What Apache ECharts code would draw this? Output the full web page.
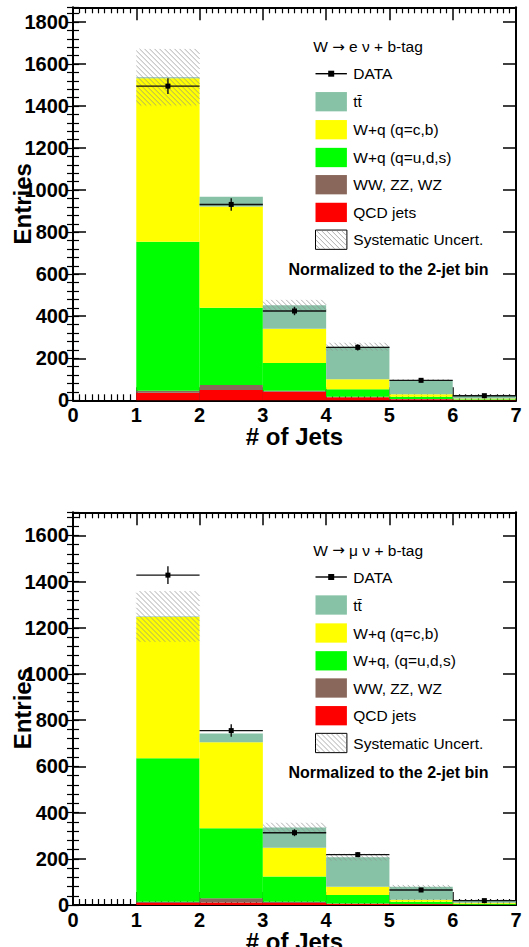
<!DOCTYPE html>
<html><head><meta charset="utf-8">
<script src="https://cdn.jsdelivr.net/npm/echarts@6/dist/echarts.min.js"></script>
<style>html,body{margin:0;padding:0;background:#fff}#c{width:529px;height:947px}</style>
</head><body><div id="c"></div>
<script>
// ---------------- data ----------------
const binEdges = [1, 2, 3, 4, 5, 6, 7];
const xTickLabels = ['0', '1', '2', '3', '4', '5', '6', '7'];

// electron channel (top panel)
const eQCD     = [36, 49, 41, 14, 5, 2];
const eDiboson = [10, 24, 5, 3, 1, 0.5];
const eWlight  = [708, 367, 132, 35, 11, 2.5];
const eWheavy  = [778, 482, 162, 48, 12, 3];
const eTTbar   = [5, 46, 112, 155, 68, 17];
const eSyst    = [135, 0, 26, 19, 4, 2];
const eData    = [1495, 932, 425, 252, 95, 22];
const eDataErr = [37, 30, 20, 15, 9, 4];

// muon channel (bottom panel)
const mQCD     = [9, 11, 9, 5, 3, 1];
const mDiboson = [5, 18, 5, 2, 1, 0.5];
const mWlight  = [621, 303, 109, 36, 10, 3.5];
const mWheavy  = [612, 373, 125, 36, 9, 5];
const mTTbar   = [2, 37, 87, 128, 56, 12];
const mSyst    = [110, 0, 21, 15, 8, 2];
const mData    = [1428, 755, 313, 218, 65, 19];
const mDataErr = [38, 27, 15, 10, 6, 3];

const yMaxE = 1870, yMaxM = 1700;
const eTitle = ['W ', '\u2192', ' e \u03bd + b-tag'];
const mTitle = ['W ', '\u2192', ' \u03bc \u03bd + b-tag'];
const eLegend = ['DATA', 'tt\u0304', 'W+q (q=c,b)', 'W+q (q=u,d,s)', 'WW, ZZ, WZ', 'QCD jets', 'Systematic Uncert.'];
const mLegend = ['DATA', 'tt\u0304', 'W+q (q=c,b)', 'W+q, (q=u,d,s)', 'WW, ZZ, WZ', 'QCD jets', 'Systematic Uncert.'];
const normText = 'Normalized to the 2-jet bin';
const xName = '# of Jets';
const yName = 'Entries';

// ---------------- style ----------------
const FONT = '"Liberation Sans", Arial, Helvetica, sans-serif';
const C = { qcd: '#ff0000', dib: '#89675a', wl: '#00ff00', wh: '#ffff00', tt: '#87c2a6' };
const GRIDS = [
  { left: 73, top: 7.3, width: 443, height: 393 },
  { left: 73, top: 512.3, width: 443, height: 392.7 }
];

function hatchLines(x, y, w, h, step, color, lw) {
  const out = [];
  for (let c = (y - (x + w)); c < (y + h - x); c += step) {
    const xs = Math.max(x, y - c), xe = Math.min(x + w, y + h - c);
    if (xe > xs) out.push({ type: 'line', shape: { x1: xs, y1: xs + c, x2: xe, y2: xe + c }, style: { stroke: color, lineWidth: lw }, silent: true });
  }
  return out;
}

function rectItem(color) {
  return function (params, api) {
    const a = api.coord([api.value(0), api.value(3)]);
    const b = api.coord([api.value(1), api.value(2)]);
    return { type: 'rect', shape: { x: a[0], y: a[1], width: b[0] - a[0], height: b[1] - a[1] }, style: { fill: color } };
  };
}

function hatchItem(params, api) {
  const a = api.coord([api.value(0), api.value(3)]);
  const b = api.coord([api.value(1), api.value(2)]);
  return { type: 'group', children: hatchLines(a[0], a[1], b[0] - a[0], b[1] - a[1], 5, '#8c8c8c', 0.7) };
}

function dataItem(params, api) {
  const x0 = api.value(0), x1 = api.value(1), v = api.value(2), e = api.value(3);
  const xm = (x0 + x1) / 2;
  const pL = api.coord([x0, v]), pR = api.coord([x1, v]);
  const pT = api.coord([xm, v + e]), pB = api.coord([xm, v - e]), pC = api.coord([xm, v]);
  const ms = 5;
  return { type: 'group', children: [
    { type: 'line', shape: { x1: pL[0], y1: pL[1], x2: pR[0], y2: pR[1] }, style: { stroke: '#111', lineWidth: 1.4 } },
    { type: 'line', shape: { x1: pT[0], y1: pT[1], x2: pB[0], y2: pB[1] }, style: { stroke: '#111', lineWidth: 1.4 } },
    { type: 'rect', shape: { x: pC[0] - ms / 2, y: pC[1] - ms / 2, width: ms, height: ms }, style: { fill: '#000' } }
  ] };
}

function panelSeries(g, comps, syst, data, err) {
  const xi = g * 2, yi = g * 4;
  const base = new Array(binEdges.length - 1).fill(0);
  const series = [];
  comps.forEach(([vals, color]) => {
    const d = vals.map((v, i) => [binEdges[i], binEdges[i + 1], base[i], base[i] + v]);
    vals.forEach((v, i) => base[i] += v);
    series.push({ type: 'custom', xAxisIndex: xi, yAxisIndex: yi, z: 2, silent: true, data: d, renderItem: rectItem(color) });
  });
  const hd = syst.map((s, i) => [binEdges[i], binEdges[i + 1], base[i] - s, base[i] + s]).filter((r, i) => syst[i] > 0);
  series.push({ type: 'custom', xAxisIndex: xi, yAxisIndex: yi, z: 3, silent: true, data: hd, renderItem: hatchItem });
  const dd = data.map((v, i) => [binEdges[i], binEdges[i + 1], v, err[i]]);
  series.push({ type: 'custom', xAxisIndex: xi, yAxisIndex: yi, z: 4, silent: true, data: dd, renderItem: dataItem });
  return series;
}

function xAxes(g) {
  const common = {
    type: 'value', gridIndex: g, min: 0, max: 7, interval: 1,
    axisLine: { show: true, onZero: false, lineStyle: { color: '#000', width: 2 } },
    axisTick: { show: true, inside: true, length: 13, lineStyle: { color: '#000', width: 1.5 } },
    minorTick: { show: true, splitNumber: 10, length: 6, lineStyle: { color: '#000', width: 1.2 } },
    splitLine: { show: false }, minorSplitLine: { show: false }
  };
  return [
    Object.assign({}, common, {
      position: 'bottom',
      axisLabel: { show: true, margin: 6, color: '#000', fontFamily: FONT, fontWeight: 'bold', fontSize: 20, lineHeight: 17,
        formatter: v => xTickLabels[Math.round(v)] },
      name: xName, nameLocation: 'middle', nameGap: 26, nameMoveOverlap: false,
      nameTextStyle: { color: '#000', fontFamily: FONT, fontWeight: 'bold', fontSize: 24, lineHeight: 20 }
    }),
    Object.assign({}, common, { position: 'top', axisLabel: { show: false } })
  ];
}

function yAxes(g, ymax) {
  const major = {
    type: 'value', gridIndex: g, min: 0, max: ymax, interval: 200,
    axisLine: { show: true, onZero: false, lineStyle: { color: '#000', width: 2 } },
    axisTick: { show: true, inside: true, length: 13, lineStyle: { color: '#000', width: 1.5 } },
    splitLine: { show: false }
  };
  const minor = {
    type: 'value', gridIndex: g, min: 0, max: ymax, interval: 40,
    axisLine: { show: false },
    axisTick: { show: true, inside: true, length: 6, lineStyle: { color: '#000', width: 1.2 } },
    axisLabel: { show: false }, splitLine: { show: false }
  };
  return [
    Object.assign({}, major, {
      position: 'left',
      axisLabel: { show: true, margin: 4, showMaxLabel: false, color: '#000', fontFamily: FONT, fontWeight: 'bold', fontSize: 20,
        formatter: v => String(Math.round(v)) },
      name: yName, nameLocation: 'middle', nameGap: 39, nameMoveOverlap: false,
      nameTextStyle: { color: '#000', fontFamily: FONT, fontWeight: 'bold', fontSize: 24 }
    }),
    Object.assign({}, minor, { position: 'left' }),
    Object.assign({}, major, { position: 'right', axisLabel: { show: false } }),
    Object.assign({}, minor, { position: 'right' })
  ];
}

function legendGraphics(y0, title, labels) {
  const els = [];
  const bx = 315.5, bw = 31.4, bh = 19.3, tx = 353.3;
  const rows = [27, 55, 83, 110.8, 138, 165.7, 193];
  const txtStyle = (t, x, y, extra) => Object.assign({ text: t, x: x, y: y, fill: '#000', fontFamily: FONT, fontSize: 15.5, verticalAlign: 'middle', align: 'left' }, extra || {});
  els.push({ type: 'text', style: txtStyle('{a|' + title[0] + '}{b|' + title[1] + '}{a|' + title[2] + '}', 313.3, y0, {
    rich: { a: { fontFamily: FONT, fontSize: 15.5, fill: '#000' }, b: { fontFamily: '"DejaVu Sans"', fontSize: 15, fill: '#000' } } }) });
  els.push({ type: 'line', shape: { x1: bx, y1: y0 + rows[0], x2: bx + bw, y2: y0 + rows[0] }, style: { stroke: '#000', lineWidth: 1.4 } });
  els.push({ type: 'rect', shape: { x: bx + bw / 2 - 3, y: y0 + rows[0] - 3, width: 6, height: 6 }, style: { fill: '#000' } });
  els.push({ type: 'text', style: txtStyle(labels[0], tx, y0 + rows[0]) });
  const cols = [C.tt, C.wh, C.wl, C.dib, C.qcd];
  cols.forEach((c, k) => {
    const yc = y0 + rows[k + 1];
    els.push({ type: 'rect', shape: { x: bx, y: yc - bh / 2, width: bw, height: bh }, style: { fill: c } });
    els.push({ type: 'text', style: txtStyle(labels[k + 1], tx, yc) });
  });
  const ys = y0 + rows[6];
  els.push({ type: 'rect', shape: { x: bx, y: ys - bh / 2, width: bw, height: bh }, style: { fill: '#fff', stroke: '#000', lineWidth: 1 } });
  hatchLines(bx + 0.5, ys - bh / 2 + 0.5, bw - 1, bh - 1, 5, '#8c8c8c', 0.7).forEach(l => els.push(l));
  els.push({ type: 'text', style: txtStyle(labels[6], tx, ys) });
  els.push({ type: 'text', style: txtStyle(normText, 288.5, y0 + 222.5, { fontWeight: 'bold', fontSize: 16 }) });
  return els;
}

const chart = echarts.init(document.getElementById('c'), null, { renderer: 'svg', width: 529, height: 947 });
const option = {
  backgroundColor: '#fff',
  animation: false,
  grid: GRIDS.map(g => Object.assign({ show: false, outerBoundsMode: 'none', containLabel: false }, g)),
  xAxis: [].concat(xAxes(0), xAxes(1)),
  yAxis: [].concat(yAxes(0, yMaxE), yAxes(1, yMaxM)),
  series: [].concat(
    panelSeries(0, [[eQCD, C.qcd], [eDiboson, C.dib], [eWlight, C.wl], [eWheavy, C.wh], [eTTbar, C.tt]], eSyst, eData, eDataErr),
    panelSeries(1, [[mQCD, C.qcd], [mDiboson, C.dib], [mWlight, C.wl], [mWheavy, C.wh], [mTTbar, C.tt]], mSyst, mData, mDataErr)
  ),
  graphic: { elements: [].concat(legendGraphics(46.7, eTitle, eLegend), legendGraphics(550, mTitle, mLegend)) }
};
chart.setOption(option);
</script>
</body></html>
